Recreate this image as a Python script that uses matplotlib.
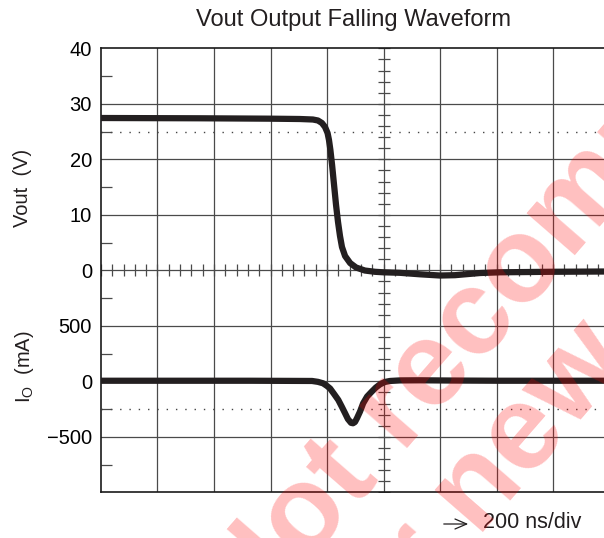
import numpy as np
import matplotlib
matplotlib.use("Agg")
import matplotlib.pyplot as plt
from matplotlib.patches import FancyArrowPatch

plt.rcParams['font.family'] = ['Liberation Sans', 'DejaVu Sans']
plt.rcParams['mathtext.default'] = 'regular'

# ---- waveform data (time in ns, relative to the centre graticule line) ----
vout_t = [-1000, -650, -402, -296, -250, -232, -218, -207, -198, -193, -188, -182,
          -175, -168, -161, -154, -147, -136, -118, -97, -66, -30, 0, 58, 129, 200,
          253, 289, 342, 412, 589, 780, 1000]
vout_v = [27.44, 27.39, 27.32, 27.26, 27.17, 26.99, 26.54, 25.82, 24.74, 23.48, 21.68,
          18.97, 15.37, 11.77, 8.70, 6.18, 4.20, 2.57, 1.30, 0.50, -0.04, -0.27, -0.36,
          -0.45, -0.72, -0.94, -0.88, -0.72, -0.49, -0.36, -0.27, -0.22, -0.20]

io_t = [-1000, -473, -253, -232, -214, -200, -189, -175, -160, -147, -136, -126, -115,
        -108, -101, -94, -83, -72, -58, -42, -27, -12, 5, 23, 58, 129, 235, 412, 1000]
io_ma = [5, 5, 3, -5, -18, -42, -65, -114, -168, -232, -288, -340, -374, -378, -367,
         -333, -272, -198, -137, -94, -56, -27, -6, 3, 8, 9, 7, 5, 5]

vout_ticks = [0, 10, 20, 30, 40]
io_ticks = [-500, 0, 500]

W, H = 604, 538
fig = plt.figure(figsize=(W / 100, H / 100), dpi=100)

# graticule: 10 x 8 divisions, 200 ns/div, 10 V/div (top) and 500 mA/div (bottom)
left_px, top_px, bottom_px, div_x = 101, 48.3, 492.3, 56.5
ax = fig.add_axes([left_px / W, 1 - bottom_px / H,
                   10 * div_x / W, (bottom_px - top_px) / H])
ax.set_xlim(-1000, 1000)
ax.set_ylim(-40, 40)
ax2 = ax.twinx()
ax2.set_ylim(-1000, 3000)

grid_c = '#4a4a4a'
for t in np.arange(-800, 1000, 200):
    ax.axvline(t, color=grid_c, lw=0.9, zorder=1)
for v in np.arange(-30, 40, 10):
    ax.axhline(v, color=grid_c, lw=0.9, zorder=1)

# centre crosshair sub-division ticks
yt = np.arange(-40, 40.1, 2)
ax.plot(np.zeros_like(yt), yt, ls='none', marker='_', ms=8.5, mew=0.9,
        color=grid_c, zorder=2)
xt = np.arange(-1000, 1000.1, 40)
ax.plot(xt, np.zeros_like(xt), ls='none', marker='|', ms=8, mew=0.9,
        color=grid_c, zorder=2)

# dotted reference levels
ax.axhline(25, color='#444444', lw=1.0, ls=(0, (1, 5.7)), zorder=1)
ax2.axhline(-250, color='#444444', lw=1.0, ls=(0, (1, 5.7)), zorder=1)

# waveforms
trace_c = '#231f20'
ax.plot(vout_t, vout_v, color=trace_c, lw=4.5, solid_capstyle='butt',
        solid_joinstyle='round', zorder=5)
ax2.plot(io_t, io_ma, color=trace_c, lw=4.5, solid_capstyle='butt',
         solid_joinstyle='round', zorder=5)

# axes styling
for a in (ax, ax2):
    for s in a.spines.values():
        s.set_visible(False)
for s in ('left', 'top', 'bottom'):
    ax.spines[s].set_visible(True)
    ax.spines[s].set_color('#1a1a1a')
    ax.spines[s].set_linewidth(1.2)

ax.set_xticks([])
ax.set_yticks(vout_ticks)
ax.set_yticks(np.arange(-35, 40, 10), minor=True)
ax.tick_params(axis='y', which='major', length=0, pad=6.5, labelsize=14.5)
ax.tick_params(axis='y', which='minor', direction='in', length=8, width=0.9,
               color=grid_c)

ax2.yaxis.set_ticks_position('left')
ax2.yaxis.set_label_position('left')
ax2.set_yticks(io_ticks)
ax2.tick_params(axis='y', which='major', length=0, pad=6.5, labelsize=14.5)
ax2.set_xticks([])

# labels
fig.text(354 / W, 1 - 20 / H, 'Vout Output Falling Waveform', ha='center',
         va='center', fontsize=17, color='#231f20')
fig.text(22 / W, 1 - 188 / H, 'Vout  (V)', rotation=90, ha='center', va='center',
         fontsize=14.5, color='#231f20')
fig.text(25 / W, 1 - 367 / H, 'I$_{O}$  (mA)', rotation=90, ha='center',
         va='center', fontsize=14.5, color='#231f20')

fig.add_artist(FancyArrowPatch(
    (441 / W, 1 - 524 / H), (471 / W, 1 - 524 / H), transform=fig.transFigure,
    arrowstyle='->,head_length=0.7,head_width=0.3', mutation_scale=12,
    lw=0.9, color='#231f20'))
fig.text(483 / W, 1 - 522 / H, '200 ns/div', ha='left', va='center',
         fontsize=15.5, color='#231f20')

# diagonal watermark
wm = dict(color='red', alpha=0.25, fontweight='bold', fontsize=87, rotation=49,
          rotation_mode='anchor', ha='center', va='baseline', zorder=20)
fig.text(596 / W, 1 - 230 / H, 'Not recommended', **wm)
fig.text(652 / W, 1 - 338 / H, 'for new designs', **wm)

fig.savefig('out.png', dpi=100)
